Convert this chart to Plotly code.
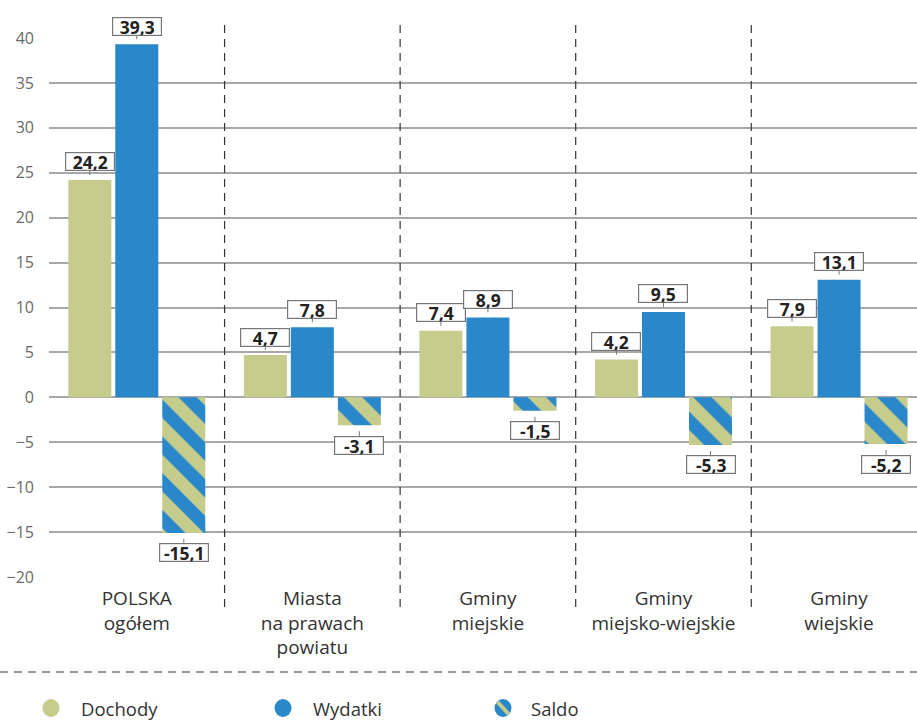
import plotly.graph_objects as go

categories = ["POLSKA<br>ogółem", "Miasta<br>na prawach<br>powiatu", "Gminy<br>miejskie",
              "Gminy<br>miejsko-wiejskie", "Gminy<br>wiejskie"]
dochody = [24.2, 4.7, 7.4, 4.2, 7.9]
wydatki = [39.3, 7.8, 8.9, 9.5, 13.1]
saldo = [-15.1, -3.1, -1.5, -5.3, -5.2]
series_names = ["Dochody", "Wydatki", "Saldo"]
y_ticks = [-20, -15, -10, -5, 0, 5, 10, 15, 20, 25, 30, 35, 40]

GREEN = "#c5cc8c"
BLUE = "#2a87c9"
FONT = "Open Sans"

xs = list(range(len(categories)))
fig = go.Figure()
fig.add_trace(go.Bar(x=xs, y=dochody, name=series_names[0], marker=dict(color=GREEN, line_width=0),
                     showlegend=False))
fig.add_trace(go.Bar(x=xs, y=wydatki, name=series_names[1], marker=dict(color=BLUE, line_width=0),
                     showlegend=False))
fig.add_trace(go.Bar(x=xs, y=saldo, name=series_names[2],
                     marker=dict(color=GREEN, line_width=0,
                                 pattern=dict(shape="\\", fgcolor=BLUE, bgcolor=GREEN,
                                              size=26, solidity=0.5, fgopacity=1, fillmode="replace")),
                     showlegend=False))

# value labels
slot = 0.8034 / 3
annotations = []
for j, vals in enumerate([dochody, wydatki, saldo]):
    for i, v in enumerate(vals):
        txt = f"{v:.1f}".replace(".", ",")
        pos = v >= 0
        annotations.append(dict(
            x=i + (j - 1) * slot, y=v, xref="x", yref="y",
            text=f"<b>{txt}</b>", showarrow=True, arrowhead=0, arrowwidth=1,
            arrowcolor="#777777", ax=0, ay=-18 if pos else 20, axref="pixel", ayref="pixel",
            standoff=5 if pos else 6,
            font=dict(family=FONT, size=17.5, color="#222222"),
            bgcolor="white", bordercolor="#777777", borderwidth=1.2, borderpad=0,
            width=48, height=17, align="center", valign="middle"))

# legend (manual)
leg_y = (577 - 708) / 539
leg_items = [(51, 80, "Dochody", GREEN), (283, 312, "Wydatki", BLUE), (503, 530, "Saldo", BLUE)]
shapes = []
for cx, tx, name, col in leg_items:
    px = (cx - 49) / 868
    shapes.append(dict(type="circle", xref="paper", yref="paper", xsizemode="pixel", ysizemode="pixel",
                       xanchor=px, yanchor=leg_y, x0=-8.5, x1=8.5, y0=-9, y1=9,
                       fillcolor=col, line=dict(width=0)))
    annotations.append(dict(x=(tx - 49) / 868, y=leg_y, xref="paper", yref="paper", text=name,
                            showarrow=False, xanchor="left", yanchor="middle", borderpad=0,
                            font=dict(family=FONT, size=18.5, color="#333333")))
# stripe on Saldo legend marker
shapes.append(dict(type="line", xref="paper", yref="paper", xsizemode="pixel", ysizemode="pixel",
                   xanchor=(503 - 49) / 868, yanchor=leg_y, x0=-5.5, x1=5.5, y0=6, y1=-6,
                   line=dict(color=GREEN, width=4)))

# vertical dashed separators
for k in range(len(categories) - 1):
    shapes.append(dict(type="line", xref="x", yref="paper", x0=k + 0.5, x1=k + 0.5,
                       y0=(577 - 607) / 539, y1=(577 - 22) / 539,
                       line=dict(color="#333333", width=1.2, dash="8px,6px")))
# horizontal dashed line above legend
shapes.append(dict(type="line", xref="paper", yref="paper", x0=-49 / 868, x1=1,
                   y0=(577 - 672) / 539, y1=(577 - 672) / 539,
                   line=dict(color="#333333", width=1.2, dash="8px,6px")))

fig.update_layout(
    width=917, height=720,
    margin=dict(l=49, r=0, t=38, b=143),
    plot_bgcolor="white", paper_bgcolor="white",
    barmode="group", bargap=0.197, bargroupgap=0.085,
    annotations=annotations, shapes=shapes,
    font=dict(family=FONT),
)
fig.update_xaxes(range=[-0.5, 4.444], tickvals=xs, ticktext=categories, showgrid=False,
                 zeroline=False, showline=False, ticks="",
                 tickfont=dict(family=FONT, size=19, color="#333333"), ticklabelstandoff=8)
fig.update_yaxes(range=[-20, 40], tickvals=y_ticks, showgrid=True, gridcolor="#a8a8a8", gridwidth=1.5,
                 zeroline=True, zerolinecolor="#a8a8a8", zerolinewidth=1.5, showline=False, ticks="",
                 tickfont=dict(family=FONT, size=16, color="#6a6a6a"), ticklabelstandoff=14)

fig.write_html("out.html")
